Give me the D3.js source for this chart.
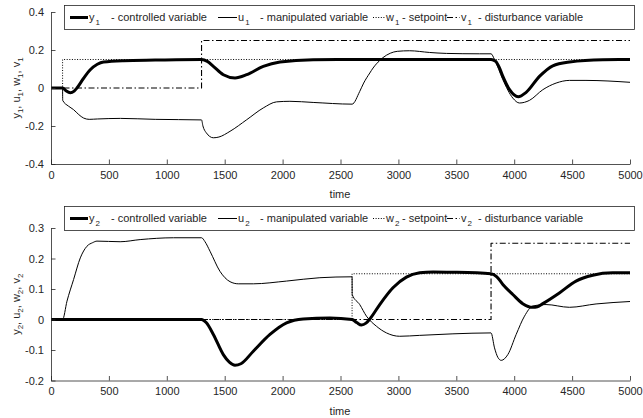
<!DOCTYPE html>
<html>
<head>
<meta charset="utf-8">
<script src="https://cdn.jsdelivr.net/npm/d3@7/dist/d3.min.js"></script>
<style>
  html, body { margin: 0; padding: 0; background: #fff; }
  svg { display: block; font-family: "Liberation Sans", Arial, sans-serif; }
  .axis text { font-size: 11px; fill: #262626; }
  .axis path, .axis line { stroke: #262626; stroke-width: 0.8; }
</style>
</head>
<body>
<svg id="chart" width="643" height="418"></svg>
<script>
// ---- data: [time, value] ----
const xTicks = [0, 500, 1000, 1500, 2000, 2500, 3000, 3500, 4000, 4500, 5000];
const yTicksTop = [-0.4, -0.2, 0, 0.2, 0.4];
const yTicksBottom = [-0.2, -0.1, 0, 0.1, 0.2, 0.3];

const y1 = [[0,0],[100,0],[130,-0.015],[166,-0.025],[200,-0.016],[224,0],[280,0.05],[339,0.096],[400,0.125],[454,0.137],[626,0.144],[900,0.147],[1300,0.15],[1350,0.14],[1402,0.114],[1488,0.07],[1589,0.053],[1690,0.07],[1833,0.114],[1977,0.137],[2264,0.149],[2600,0.15],[3800,0.15],[3840,0.14],[3870,0.11],[3902,0.061],[3960,-0.009],[4035,-0.046],[4103,-0.023],[4218,0.061],[4333,0.117],[4477,0.137],[4764,0.149],[5000,0.15]];
const u1 = [[0,0],[100,0],[101,-0.065],[150,-0.095],[195,-0.114],[240,-0.14],[281,-0.158],[330,-0.165],[400,-0.163],[600,-0.16],[900,-0.165],[1300,-0.168],[1312,-0.2],[1340,-0.235],[1402,-0.262],[1450,-0.258],[1546,-0.228],[1690,-0.167],[1833,-0.105],[1948,-0.073],[2063,-0.07],[2264,-0.076],[2600,-0.085],[2666,-0.018],[2700,0.026],[2753,0.079],[2781,0.105],[2839,0.145],[2867,0.16],[2930,0.183],[2990,0.193],[3097,0.196],[3270,0.187],[3414,0.182],[3700,0.18],[3800,0.18],[3830,0.15],[3902,0.044],[3988,-0.053],[4046,-0.079],[4132,-0.065],[4247,-0.009],[4362,0.026],[4477,0.04],[4620,0.04],[5000,0.03]];
const w1 = [[0,0],[100,0.15],[5000,0.15]];
const v1 = [[0,0],[1300,0.25],[5000,0.25]];

const y2 = [[0,0],[1300,0],[1340,-0.01],[1402,-0.049],[1488,-0.115],[1540,-0.14],[1589,-0.15],[1640,-0.145],[1747,-0.104],[1891,-0.049],[2034,-0.011],[2178,0.002],[2408,0.005],[2600,0],[2640,-0.01],[2681,-0.018],[2720,-0.012],[2760,0.005],[2839,0.049],[2953,0.104],[3069,0.139],[3184,0.153],[3300,0.156],[3471,0.155],[3800,0.15],[3850,0.14],[3902,0.115],[3988,0.082],[4074,0.052],[4160,0.04],[4200,0.042],[4247,0.052],[4390,0.087],[4534,0.126],[4678,0.145],[4850,0.153],[5000,0.153]];
const u2 = [[0,0],[100,0],[138,0.06],[195,0.131],[253,0.202],[310,0.24],[360,0.252],[397,0.257],[597,0.255],[770,0.262],[1057,0.268],[1300,0.268],[1330,0.255],[1373,0.224],[1459,0.158],[1546,0.124],[1617,0.117],[1747,0.117],[2034,0.126],[2322,0.137],[2600,0.14],[2601,0.082],[2666,0.049],[2724,0.011],[2810,-0.022],[2897,-0.044],[3011,-0.055],[3184,-0.052],[3471,-0.047],[3800,-0.044],[3830,-0.093],[3860,-0.125],[3888,-0.134],[3945,-0.115],[4017,-0.049],[4089,0.011],[4160,0.044],[4275,0.049],[4477,0.04],[4707,0.051],[5000,0.059]];
const w2 = [[0,0],[2600,0.15],[5000,0.15]];
const v2 = [[0,0],[3800,0.25],[5000,0.25]];

const legendNames = ["controlled variable", "manipulated variable", "setpoint", "disturbance variable"];
const legendLetters = ["y", "u", "w", "v"];

// ---- drawing ----
const svg = d3.select("#chart");
svg.append("rect").attr("width", 643).attr("height", 418).attr("fill", "#fff");

const styles = [
  { width: 3, dash: null, curve: d3.curveMonotoneX },
  { width: 1, dash: null, curve: d3.curveMonotoneX },
  { width: 1, dash: "1,1.6", curve: d3.curveStepAfter },
  { width: 1.1, dash: "6,2.5,1.5,2.5", curve: d3.curveStepAfter }
];

function panel(opts) {
  const x = d3.scaleLinear().domain([0, 5000]).range([51, 630]);
  const y = d3.scaleLinear().domain(opts.yDomain).range(opts.yRange);
  const g = svg.append("g");

  const series = [opts.y, opts.u, opts.w, opts.v];
  series.forEach((s, i) => {
    const st = styles[i];
    g.append("path")
      .datum(s)
      .attr("fill", "none")
      .attr("stroke", "#000")
      .attr("stroke-width", st.width)
      .attr("stroke-dasharray", st.dash)
      .attr("stroke-linejoin", "round")
      .attr("d", d3.line().x(d => x(d[0])).y(d => y(d[1])).curve(st.curve));
  });

  g.append("g").attr("class", "axis")
    .attr("transform", `translate(0,${opts.yRange[0]})`)
    .call(d3.axisBottom(x).tickValues(xTicks).tickFormat(d => String(d))
      .tickSizeInner(-4.5).tickSizeOuter(0).tickPadding(7));
  g.append("g").attr("class", "axis")
    .attr("transform", "translate(51,0)")
    .call(d3.axisLeft(y).tickValues(opts.yTicks).tickFormat(d => String(d))
      .tickSizeInner(-4.5).tickSizeOuter(0).tickPadding(7));

  // x label
  g.append("text")
    .attr("x", 340).attr("y", opts.yRange[0] + 34)
    .attr("text-anchor", "middle")
    .attr("font-size", 11).attr("fill", "#262626")
    .text("time");

  // y label with subscripts
  const yl = g.append("text")
    .attr("transform", `translate(20,${(opts.yRange[0] + opts.yRange[1]) / 2}) rotate(-90)`)
    .attr("text-anchor", "middle")
    .attr("font-size", 11).attr("fill", "#262626");
  legendLetters.forEach((L, i) => {
    yl.append("tspan").attr("dy", i === 0 ? 0 : -3).text((i === 0 ? "" : ", ") + L);
    yl.append("tspan").attr("dy", 3).attr("font-size", 8).text(opts.sub);
  });

  // legend
  const top = opts.legendTop;
  const lg = g.append("g");
  lg.append("rect")
    .attr("x", 64.5).attr("y", top + 0.5).attr("width", 570).attr("height", 24)
    .attr("fill", "#fff").attr("stroke", "#262626").attr("stroke-width", 0.8);
  const lay = [
    { x0: 70, x1: 88, letter: 89, rest: 111 },
    { x0: 218, x1: 237, letter: 238, rest: 260 },
    { x0: 373, x1: 385, letter: 386, rest: 402 },
    { x0: 447, x1: 460, letter: 461, rest: 478 }
  ];
  const cy = top + 12.5;
  lay.forEach((p, i) => {
    const st = styles[i];
    lg.append("line")
      .attr("x1", p.x0).attr("x2", p.x1).attr("y1", cy).attr("y2", cy)
      .attr("stroke", "#000").attr("stroke-width", st.width)
      .attr("stroke-dasharray", st.dash);
    const t = lg.append("text").attr("x", p.letter).attr("y", cy + 3.5)
      .attr("font-size", 11).attr("fill", "#262626").text(legendLetters[i]);
    const lw = t.node().getComputedTextLength();
    lg.append("text").attr("x", p.letter + lw + 1).attr("y", cy + 7)
      .attr("font-size", 8).attr("fill", "#262626").text(opts.sub);
    lg.append("text").attr("x", p.rest).attr("y", cy + 3.5)
      .attr("font-size", 11).attr("fill", "#262626").text("- " + legendNames[i]);
  });
}

panel({ y: y1, u: u1, w: w1, v: v1, sub: "1",
  yDomain: [-0.4, 0.4], yRange: [164, 12], yTicks: yTicksTop, legendTop: 5 });
panel({ y: y2, u: u2, w: w2, v: v2, sub: "2",
  yDomain: [-0.2, 0.3], yRange: [380.5, 228], yTicks: yTicksBottom, legendTop: 206 });
</script>
</body>
</html>
